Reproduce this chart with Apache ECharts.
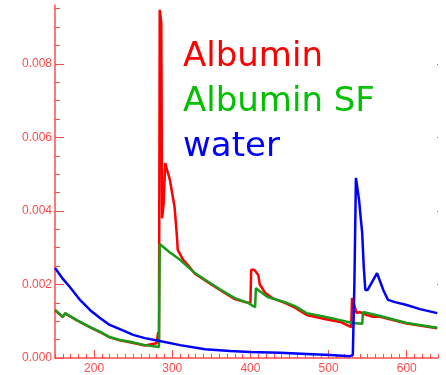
<!DOCTYPE html>
<html>
<head>
<meta charset="utf-8">
<script src="https://cdn.jsdelivr.net/npm/echarts@6/dist/echarts.min.js"></script>
<style>html,body{margin:0;padding:0;background:#fff}#c{width:446px;height:375px}</style>
</head>
<body>
<div id="c"></div>
<script>
// Tick labels
var xTicks = [200, 300, 400, 500, 600];
var yTicks = [0, 0.002, 0.004, 0.006, 0.008];

// Albumin (red)
var albuminX = [150, 160, 163, 178, 195, 208, 220, 233, 246, 265, 280, 282, 283, 284, 285, 286, 287, 289, 291, 293, 297, 303, 306, 307, 314, 320, 329, 344, 361, 380, 397, 400, 401, 405, 410, 412, 419, 428, 444, 457, 472, 495, 515, 529, 530, 532, 536, 540, 549, 557, 566, 600, 639];
var albuminY = [0.00130, 0.00111, 0.00121, 0.00102, 0.00083, 0.00070, 0.00056, 0.00048, 0.00043, 0.00034, 0.00040, 0.00070, 0.00050, 0.00947, 0.00947, 0.00910, 0.00380, 0.00420, 0.00530, 0.00533, 0.00484, 0.00410, 0.00330, 0.00294, 0.00267, 0.00253, 0.00229, 0.00208, 0.00185, 0.00160, 0.00150, 0.00150, 0.00240, 0.00240, 0.00226, 0.00200, 0.00177, 0.00163, 0.00150, 0.00137, 0.00117, 0.00106, 0.00098, 0.00084, 0.00163, 0.00150, 0.00122, 0.00125, 0.00117, 0.00112, 0.00112, 0.00094, 0.00081];

// Albumin SF (green)
var albuminSfX = [150, 160, 163, 178, 195, 208, 220, 233, 246, 265, 283, 284, 297, 310, 329, 344, 361, 380, 397, 406, 407, 422, 444, 457, 472, 495, 515, 530, 543, 544, 566, 600, 639];
var albuminSfY = [0.00131, 0.00112, 0.00122, 0.00103, 0.00084, 0.00071, 0.00057, 0.00049, 0.00044, 0.00035, 0.00030, 0.00310, 0.00287, 0.00267, 0.00231, 0.00210, 0.00187, 0.00163, 0.00150, 0.00138, 0.00190, 0.00166, 0.00152, 0.00141, 0.00122, 0.00112, 0.00103, 0.00095, 0.00093, 0.00125, 0.00114, 0.00095, 0.00082];

// water (blue)
var waterX = [150, 159, 169, 182, 195, 208, 220, 236, 250, 265, 284, 310, 342, 374, 399, 438, 472, 502, 527, 531, 533, 535, 539, 541, 543, 545, 547, 550, 557, 562, 570, 576, 585, 600, 617, 639];
var waterY = [0.00245, 0.00218, 0.00193, 0.00158, 0.00130, 0.00108, 0.00090, 0.00076, 0.00063, 0.00054, 0.00046, 0.00035, 0.00024, 0.00019, 0.00016, 0.00014, 0.00011, 0.00008, 0.00005, 0.00008, 0.00200, 0.00490, 0.00430, 0.00384, 0.00340, 0.00248, 0.00185, 0.00185, 0.00212, 0.00231, 0.00185, 0.00158, 0.00152, 0.00144, 0.00133, 0.00122];

var legendNames = ['Albumin', 'Albumin SF', 'water'];
var legendColors = ['#ff0000', '#00c000', '#0000ff'];

function pairs(xs, ys) { return xs.map(function (x, i) { return [x, ys[i]]; }); }
var xMinor = []; for (var v = 150; v <= 640; v += 10) xMinor.push(v);
var yMinor = []; for (var k = 0; k <= 19; k++) yMinor.push(+(k * 0.0005).toFixed(4));

var AX = '#ff4a4a';
var chart = echarts.init(document.getElementById('c'), null, {renderer: 'canvas'});
var baseX = {type: 'value', min: 150, max: 640, position: 'bottom', splitLine: {show: false}};
var baseY = {type: 'value', min: 0, max: 0.0096, splitLine: {show: false}};
chart.setOption({
  animation: false,
  backgroundColor: '#fff',
  grid: {left: 55, right: 8, top: 5, bottom: 17, containLabel: false},
  xAxis: [
    Object.assign({}, baseX, {axisLine: {show: true, lineStyle: {color: AX, width: 1.5}},
      axisTick: {show: true, inside: true, length: 4, customValues: xMinor, lineStyle: {color: AX, width: 1}},
      axisLabel: {show: false}}),
    Object.assign({}, baseX, {axisLine: {show: false},
      axisTick: {show: true, inside: true, length: 8, customValues: xTicks, lineStyle: {color: AX, width: 1}},
      axisLabel: {show: true, customValues: xTicks, color: AX, fontSize: 12, fontFamily: 'Liberation Sans', margin: 5}})
  ],
  yAxis: [
    Object.assign({}, baseY, {position: 'left', axisLine: {show: true, lineStyle: {color: AX, width: 1.5}},
      axisTick: {show: true, inside: true, length: 5, customValues: yMinor, lineStyle: {color: AX, width: 1}},
      axisLabel: {show: false}}),
    Object.assign({}, baseY, {position: 'left', axisLine: {show: false},
      axisTick: {show: true, inside: true, length: 9, customValues: yTicks, lineStyle: {color: AX, width: 1}},
      axisLabel: {show: true, customValues: yTicks, color: AX, fontSize: 12, fontFamily: 'Liberation Sans', margin: 3,
        formatter: function (v) { return v.toFixed(3); }}}),
    Object.assign({}, baseY, {position: 'right', axisLine: {show: false},
      axisTick: {show: true, inside: true, length: 1, customValues: yTicks.slice(1), lineStyle: {color: AX, width: 1}},
      axisLabel: {show: false}})
  ],
  series: [
    {name: legendNames[0], type: 'line', data: pairs(albuminX, albuminY), showSymbol: false, lineStyle: {color: '#ff0000', width: 2.5}, z: 2},
    {name: legendNames[1], type: 'line', data: pairs(albuminSfX, albuminSfY), showSymbol: false, lineStyle: {color: '#1a9a1a', width: 2.5}, z: 3},
    {name: legendNames[2], type: 'line', data: pairs(waterX, waterY), showSymbol: false, lineStyle: {color: '#0000ff', width: 2.5}, z: 4}
  ],
  graphic: legendNames.map(function (n, i) {
    return {type: 'text', left: 183, top: 40 + i * 45, z: 10,
      style: {text: n, fill: legendColors[i], font: '34px "DejaVu Sans"'}};
  })
});
</script>
</body>
</html>
